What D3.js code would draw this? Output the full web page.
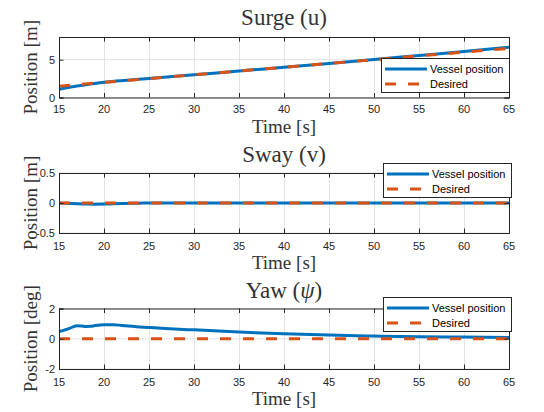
<!DOCTYPE html>
<html>
<head>
<meta charset="utf-8">
<script src="https://cdn.jsdelivr.net/npm/d3@7"></script>
<style>
  html, body { margin: 0; padding: 0; background: #fff; }
  svg { display: block; }
  .tick-label { font-family: "Liberation Sans", Arial, sans-serif; font-size: 11px; fill: #262626; }
  .legend-text { font-family: "Liberation Sans", Arial, sans-serif; font-size: 11px; fill: #000; }
  .serif { font-family: "Liberation Serif", "Times New Roman", serif; font-weight: normal; fill: #333; }
</style>
</head>
<body>
<svg id="chart" width="544" height="412"></svg>
<script>
// Time axis shared by the three panels
const xTicks = [15, 20, 25, 30, 35, 40, 45, 50, 55, 60, 65];

// Surge (u) position [m]
const surgeTime = [15, 16, 17, 18, 19, 20, 25, 30, 35, 40, 45, 50, 55, 60, 65];
const surgeVessel = [1.1, 1.32, 1.52, 1.7, 1.86, 2.02, 2.5, 3.0, 3.5, 4.0, 4.5, 5.02, 5.55, 6.08, 6.65];
const surgeDesiredTime = [15, 65];
const surgeDesired = [1.5, 6.5];
const surgeYTicks = [0, 5];

// Sway (v) position [m]
const swayTime = [15, 16, 17, 18, 19, 20, 21, 22, 23, 24, 25, 30, 35, 40, 45, 50, 55, 60, 65];
const swayVessel = [0, -0.006, -0.012, -0.017, -0.019, -0.018, -0.014, -0.01, -0.006, -0.003, 0, 0.002, 0.002, 0.001, 0.001, 0, 0, 0, 0];
const swayDesiredTime = [15, 65];
const swayDesired = [0, 0];
const swayYTicks = [-0.5, 0, 0.5];

// Yaw (psi) angle [deg]
const yawTime = [15, 15.5, 16, 16.5, 17, 17.5, 18, 18.5, 19, 20, 21, 22, 25, 30, 35, 40, 45, 50, 55, 60, 65];
const yawVessel = [0.48, 0.55, 0.65, 0.77, 0.86, 0.85, 0.81, 0.82, 0.87, 0.93, 0.93, 0.88, 0.74, 0.59, 0.44, 0.33, 0.24, 0.18, 0.13, 0.11, 0.09];
const yawDesiredTime = [15, 65];
const yawDesired = [0, 0];
const yawYTicks = [-2, 0, 2];

const legendLabels = ["Vessel position", "Desired"];

const BLUE = "#0072BD";
const ORANGE = "#D95319";
const AXIS = "#262626";
const GRID = "#e3e3e3";

const svg = d3.select("#chart");

const panels = [
  { top: 37, bottom: 97.5, yDomain: [0, 8], yTicks: surgeYTicks,
    title: [["Surge (u)", false]], ylabel: "Position [m]",
    vessel: { t: surgeTime, v: surgeVessel }, desired: { t: surgeDesiredTime, v: surgeDesired },
    legend: { x: 381, y: 58, w: 128, h: 34 }, titleY: 25, tickY: 113, xlabelY: 133 },
  { top: 173, bottom: 233, yDomain: [-0.5, 0.5], yTicks: swayYTicks,
    title: [["Sway (v)", false]], ylabel: "Position [m]",
    vessel: { t: swayTime, v: swayVessel }, desired: { t: swayDesiredTime, v: swayDesired },
    legend: { x: 383, y: 163, w: 128, h: 34 }, titleY: 162, tickY: 250, xlabelY: 269 },
  { top: 308.5, bottom: 369, yDomain: [-2, 2], yTicks: yawYTicks,
    title: [["Yaw (", false], ["ψ", true], [")", false]], ylabel: "Position [deg]",
    vessel: { t: yawTime, v: yawVessel }, desired: { t: yawDesiredTime, v: yawDesired },
    legend: { x: 383, y: 297, w: 128, h: 34 }, titleY: 298, tickY: 386, xlabelY: 405 }
];

const left = 59, right = 509;

panels.forEach((p, i) => {
  const g = svg.append("g");
  const x = d3.scaleLinear().domain([15, 65]).range([left, right]);
  const y = d3.scaleLinear().domain(p.yDomain).range([p.bottom, p.top]);

  // grid
  g.append("g").selectAll("line.vg").data(xTicks.slice(1, -1)).join("line")
    .attr("x1", d => Math.round(x(d)) + 0.5).attr("x2", d => Math.round(x(d)) + 0.5)
    .attr("y1", p.top).attr("y2", p.bottom)
    .attr("stroke", GRID).attr("stroke-width", 1);
  g.append("g").selectAll("line.hg").data(p.yTicks).join("line")
    .attr("x1", left).attr("x2", right)
    .attr("y1", d => y(d)).attr("y2", d => y(d))
    .attr("stroke", GRID).attr("stroke-width", 1);

  // series
  const lineGen = d3.line().x(d => x(d[0])).y(d => y(d[1])).curve(d3.curveMonotoneX);
  const vPts = p.vessel.t.map((t, k) => [t, p.vessel.v[k]]);
  const dPts = p.desired.t.map((t, k) => [t, p.desired.v[k]]);
  g.append("path").datum(vPts).attr("d", lineGen)
    .attr("fill", "none").attr("stroke", BLUE).attr("stroke-width", 3);
  g.append("path").datum(dPts).attr("d", lineGen)
    .attr("fill", "none").attr("stroke", ORANGE).attr("stroke-width", 3)
    .attr("stroke-dasharray", "11,12");

  // axes: box on all four sides, ticks pointing inward
  const tickLen = 4.5;
  g.append("g").attr("transform", `translate(0,${p.bottom})`)
    .call(d3.axisBottom(x).tickValues(xTicks).tickSize(-tickLen).tickFormat(""))
    .call(a => a.selectAll("line,path").attr("stroke", AXIS));
  g.append("g").attr("transform", `translate(0,${p.top})`)
    .call(d3.axisTop(x).tickValues(xTicks).tickSize(-tickLen).tickFormat(""))
    .call(a => a.selectAll("line,path").attr("stroke", AXIS));
  g.append("g").attr("transform", `translate(${left},0)`)
    .call(d3.axisLeft(y).tickValues(p.yTicks).tickSize(-tickLen).tickFormat(""))
    .call(a => a.selectAll("line,path").attr("stroke", AXIS));
  g.append("g").attr("transform", `translate(${right},0)`)
    .call(d3.axisRight(y).tickValues(p.yTicks).tickSize(-tickLen).tickFormat(""))
    .call(a => a.selectAll("line,path").attr("stroke", AXIS));

  // tick labels
  g.append("g").selectAll("text").data(xTicks).join("text")
    .attr("class", "tick-label")
    .attr("x", d => x(d)).attr("y", p.tickY)
    .attr("text-anchor", "middle").text(d => d);
  g.append("g").selectAll("text").data(p.yTicks).join("text")
    .attr("class", "tick-label")
    .attr("x", 55).attr("y", d => y(d) + 4)
    .attr("text-anchor", "end").text(d => d);

  // title
  const title = g.append("text").attr("class", "serif")
    .attr("x", (left + right) / 2).attr("y", p.titleY)
    .attr("text-anchor", "middle").attr("font-size", 23);
  p.title.forEach(([s, it]) => {
    const ts = title.append("tspan").text(s);
    if (it) ts.attr("font-style", "italic");
  });

  // x label
  g.append("text").attr("class", "serif")
    .attr("x", (left + right) / 2).attr("y", p.xlabelY)
    .attr("text-anchor", "middle").attr("font-size", 19)
    .text("Time [s]");

  // y label
  const cy = (p.top + p.bottom) / 2;
  g.append("text").attr("class", "serif")
    .attr("transform", `translate(37,${cy}) rotate(-90)`)
    .attr("text-anchor", "middle").attr("font-size", 19)
    .text(p.ylabel);

  // legend
  const L = p.legend;
  const lg = g.append("g");
  lg.append("rect").attr("x", L.x + 0.5).attr("y", L.y + 0.5)
    .attr("width", L.w).attr("height", L.h)
    .attr("fill", "#fff").attr("stroke", AXIS).attr("stroke-width", 1);
  const rows = [
    { label: legendLabels[0], color: BLUE, dash: null, dy: 11 },
    { label: legendLabels[1], color: ORANGE, dash: "11,12", dy: 26 }
  ];
  rows.forEach(r => {
    lg.append("line")
      .attr("x1", L.x + 4).attr("x2", L.x + 46)
      .attr("y1", L.y + r.dy).attr("y2", L.y + r.dy)
      .attr("stroke", r.color).attr("stroke-width", 3)
      .attr("stroke-dasharray", r.dash);
    lg.append("text").attr("class", "legend-text")
      .attr("x", L.x + 49).attr("y", L.y + r.dy + 4)
      .text(r.label);
  });
});
</script>
</body>
</html>
